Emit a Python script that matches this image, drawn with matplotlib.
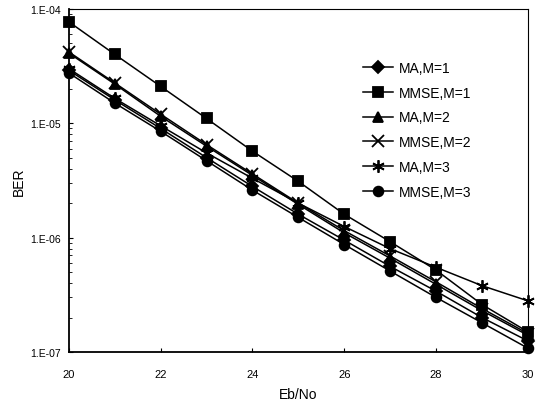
import matplotlib
matplotlib.use("Agg")
import matplotlib.pyplot as plt
from matplotlib.ticker import FixedLocator, LogLocator, NullFormatter

ebno = [20, 21, 22, 23, 24, 25, 26, 27, 28, 29, 30]
ma_m1 = [2.9e-5, 1.6e-5, 9.0e-6, 5.0e-6, 2.8e-6, 1.6e-6, 9.5e-7, 5.6e-7, 3.4e-7, 2.0e-7, 1.25e-7]
mmse_m1 = [7.7e-5, 4.0e-5, 2.1e-5, 1.1e-5, 5.7e-6, 3.1e-6, 1.6e-6, 9.2e-7, 5.2e-7, 2.6e-7, 1.5e-7]
ma_m2 = [4.1e-5, 2.2e-5, 1.15e-5, 6.3e-6, 3.5e-6, 1.95e-6, 1.1e-6, 6.6e-7, 3.9e-7, 2.3e-7, 1.4e-7]
mmse_m2 = [4.2e-5, 2.25e-5, 1.2e-5, 6.5e-6, 3.6e-6, 2.0e-6, 1.15e-6, 6.9e-7, 4.1e-7, 2.4e-7, 1.45e-7]
ma_m3 = [3.0e-5, 1.65e-5, 9.5e-6, 5.5e-6, 3.3e-6, 2.0e-6, 1.25e-6, 8.0e-7, 5.5e-7, 3.8e-7, 2.8e-7]
mmse_m3 = [2.75e-5, 1.5e-5, 8.5e-6, 4.7e-6, 2.6e-6, 1.5e-6, 8.7e-7, 5.1e-7, 3.0e-7, 1.8e-7, 1.08e-7]

labels = ["MA,M=1", "MMSE,M=1", "MA,M=2", "MMSE,M=2", "MA,M=3", "MMSE,M=3"]
series = [ma_m1, mmse_m1, ma_m2, mmse_m2, ma_m3, mmse_m3]
markers = ["D", "s", "^", "x", (6, 2, 0), "o"]
msizes = [6, 7, 7, 8, 9, 7]

xticks = [20, 22, 24, 26, 28, 30]
yticks = [1e-7, 1e-6, 1e-5, 1e-4]
ytick_labels = ["1.E-07", "1.E-06", "1.E-05", "1.E-04"]

plt.rcParams['font.family'] = ['Liberation Sans', 'DejaVu Sans']

fig = plt.figure(figsize=(5.42, 4.10), dpi=100)
ax = fig.add_axes([0.127, 0.139, 0.847, 0.837])

for y, lab, m, ms in zip(series, labels, markers, msizes):
    ax.plot(ebno, y, color='black', lw=1.1, marker=m, markersize=ms,
            markeredgewidth=1.3, label=lab, clip_on=False)

ax.set_yscale('log')
ax.set_xlim(20, 30)
ax.set_ylim(1e-7, 1e-4)
ax.set_xticks(xticks)
ax.set_xticklabels([str(t) for t in xticks], fontsize=8)
ax.yaxis.set_major_locator(FixedLocator(yticks))
ax.set_yticklabels(ytick_labels, fontsize=7.5)
ax.yaxis.set_minor_locator(LogLocator(base=10, subs=range(2, 10)))
ax.yaxis.set_minor_formatter(NullFormatter())
ax.tick_params(axis='both', direction='in', length=3, width=0.8)
ax.tick_params(axis='x', pad=12)
ax.tick_params(axis='y', pad=6)
ax.tick_params(axis='y', which='minor', direction='in', length=2, width=0.6)

for s in ['left', 'bottom']:
    ax.spines[s].set_linewidth(1.3)
for s in ['top', 'right']:
    ax.spines[s].set_linewidth(0.8)

ax.set_xlabel('Eb/No', fontsize=10, labelpad=6)
ax.set_ylabel('BER', fontsize=10, labelpad=3)

leg = ax.legend(loc='upper left', bbox_to_anchor=(0.613, 0.885), frameon=False,
                fontsize=10, handlelength=2.2, labelspacing=0.78, handletextpad=0.4)

fig.savefig('out.png', dpi=100)
